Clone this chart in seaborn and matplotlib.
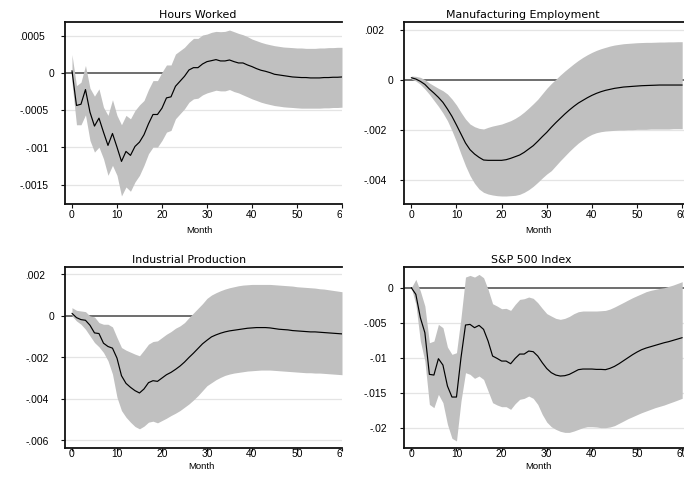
import matplotlib
matplotlib.use("Agg")
import matplotlib.pyplot as plt
import seaborn as sns
from matplotlib.transforms import blended_transform_factory, offset_copy, Bbox

# ---------------------------------------------------------------------------
# Impulse responses (point estimate and confidence band), months 0..60
# ---------------------------------------------------------------------------
months = list(range(61))

hours_irf = [0.00003, -0.000437, -0.00042, -0.000223, -0.000527, -0.000714, -0.000607, -0.000795,
             -0.000973, -0.000813, -0.000996, -0.001188, -0.001054, -0.001107, -0.000987, -0.000929,
             -0.00083, -0.000683, -0.000558, -0.000558, -0.000473, -0.000335, -0.000321, -0.000179,
             -0.000112, -0.000045, 0.00004, 0.000071, 0.000071, 0.00012, 0.000152,
             0.000165, 0.000179, 0.000161, 0.000161, 0.000174, 0.000152, 0.000134, 0.000134, 0.000107,
             0.000085, 0.000058, 0.000036, 0.000022, 0.000004, -0.000018, -0.000027, -0.000036,
             -0.000045, -0.000054, -0.000058, -0.000062, -0.000062, -0.000067, -0.000067, -0.000067,
             -0.000062, -0.000062, -0.000058, -0.000058, -0.000054]
hours_hi = [0.000246, -0.00017, -0.000125, 0.0001, -0.000205, -0.000312, -0.000214, -0.00046,
            -0.00057, -0.00036, -0.00057, -0.000696, -0.00057, -0.000616, -0.000504, -0.000429,
            -0.00037, -0.000223, -0.000103, -0.000103, 0.00001, 0.000107, 0.000107, 0.000254,
            0.000299, 0.000344, 0.00041, 0.000464, 0.000464, 0.000509, 0.000522,
            0.000545, 0.000558, 0.000554, 0.000558, 0.000576, 0.000554, 0.000531, 0.000513, 0.000487,
            0.000455, 0.000433, 0.000411, 0.000393, 0.000379, 0.000366, 0.000357, 0.000348,
            0.000344, 0.00034, 0.000335, 0.000335, 0.00033, 0.00033, 0.00033, 0.000335,
            0.000335, 0.00034, 0.00034, 0.000344, 0.000344]
hours_lo = [-0.000125, -0.000696, -0.000696, -0.000563, -0.000906, -0.001063, -0.000996, -0.001152,
            -0.001375, -0.001241, -0.001375, -0.001652, -0.001531, -0.001589, -0.001464, -0.001375,
            -0.001241, -0.001085, -0.000996, -0.000996, -0.000906, -0.000795, -0.000772, -0.000616,
            -0.000549, -0.000482, -0.000393, -0.000348, -0.000339, -0.000295, -0.000268,
            -0.00025, -0.000232, -0.000241, -0.000241, -0.000223, -0.00025, -0.000268, -0.000295,
            -0.000321, -0.000348, -0.00037, -0.000393, -0.00041, -0.000424, -0.000438, -0.000446,
            -0.000455, -0.00046, -0.000464, -0.000469, -0.000473, -0.000473, -0.000473, -0.000473,
            -0.000473, -0.000469, -0.000469, -0.000464, -0.000464, -0.00046]

mfg_irf = [0.000093, 0.00004, -0.000053, -0.000173, -0.00036, -0.00052, -0.000693, -0.000893,
           -0.00116, -0.001453, -0.0018, -0.00216, -0.00252, -0.002787, -0.00296, -0.003093,
           -0.0032, -0.003213, -0.003213, -0.003213, -0.003213, -0.003187, -0.003133, -0.003067,
           -0.003, -0.002893, -0.00276, -0.002627, -0.002453, -0.002267, -0.002093,
           -0.001893, -0.001707, -0.001533, -0.00136, -0.0012, -0.001053, -0.00092, -0.000813,
           -0.000707, -0.000613, -0.000533, -0.000467, -0.000413, -0.000373, -0.000333, -0.000307,
           -0.00028, -0.000267, -0.000253, -0.00024, -0.000227, -0.00022, -0.000213, -0.000207,
           -0.0002, -0.0002, -0.0002, -0.0002, -0.0002, -0.0002]
mfg_hi = [0.00016, 0.000147, 0.000107, 0.000013, -0.00012, -0.000227, -0.000333, -0.000427,
          -0.00056, -0.00076, -0.001, -0.001293, -0.00156, -0.00176, -0.001867, -0.001933,
          -0.00196, -0.001893, -0.00184, -0.0018, -0.00176, -0.001693, -0.001627, -0.001533,
          -0.00142, -0.00128, -0.00112, -0.00095, -0.00077, -0.00055, -0.00033,
          -0.00014, 0.00003, 0.0002, 0.00036, 0.000507, 0.000653, 0.000787, 0.000907,
          0.001013, 0.001107, 0.001187, 0.001253, 0.001307, 0.00136, 0.0014, 0.001427,
          0.001453, 0.001467, 0.00148, 0.001493, 0.0015, 0.001507, 0.001507, 0.001513,
          0.00152, 0.00152, 0.001527, 0.001527, 0.001533, 0.001533]
mfg_lo = [0.00004, -0.00004, -0.000173, -0.00036, -0.000573, -0.000813, -0.001053, -0.00132,
          -0.001627, -0.002027, -0.002467, -0.00296, -0.003427, -0.003827, -0.004133, -0.00436,
          -0.004493, -0.00456, -0.0046, -0.004627, -0.00464, -0.00464, -0.004627, -0.004613,
          -0.004573, -0.004493, -0.004387, -0.004253, -0.004093, -0.00392, -0.00376,
          -0.003627, -0.003427, -0.003227, -0.00304, -0.002853, -0.00268, -0.00252, -0.002387,
          -0.002267, -0.002173, -0.002107, -0.002067, -0.00204, -0.002027, -0.002013, -0.002,
          -0.002, -0.001987, -0.001987, -0.001973, -0.001973, -0.001973, -0.00196, -0.00196,
          -0.00196, -0.00196, -0.00196, -0.001947, -0.001947, -0.001947]

ip_irf = [0.000128, -0.00008, -0.000176, -0.000208, -0.000448, -0.000816, -0.000848, -0.001312,
          -0.001472, -0.001552, -0.002032, -0.00288, -0.003248, -0.00344, -0.0036, -0.003712,
          -0.00352, -0.003216, -0.00312, -0.003152, -0.002992, -0.002832, -0.00272, -0.002576,
          -0.002416, -0.002224, -0.002, -0.001792, -0.001568, -0.001344, -0.00117,
          -0.001008, -0.000912, -0.000832, -0.000768, -0.00072, -0.000688, -0.000656, -0.000624,
          -0.000592, -0.000576, -0.00056, -0.00056, -0.00056, -0.000576, -0.000608, -0.00064,
          -0.000656, -0.000672, -0.000704, -0.00072, -0.000736, -0.000752, -0.000768, -0.000768,
          -0.000784, -0.0008, -0.000816, -0.000832, -0.000848, -0.000864]
ip_hi = [0.0004, 0.000272, 0.00024, 0.000208, 0.0, -0.000048, -0.00032, -0.0004,
         -0.0004, -0.000528, -0.00104, -0.00152, -0.001648, -0.001744, -0.00184, -0.00192,
         -0.001648, -0.00136, -0.001232, -0.0012, -0.00104, -0.00088, -0.000752, -0.000592,
         -0.00048, -0.00032, -0.00008, 0.000144, 0.000368, 0.000592, 0.000848,
         0.001008, 0.00112, 0.001216, 0.001296, 0.00136, 0.001408, 0.001456, 0.001488,
         0.001504, 0.00152, 0.00152, 0.00152, 0.00152, 0.00152, 0.001504, 0.001488,
         0.001472, 0.001456, 0.00144, 0.001408, 0.001392, 0.001376, 0.00136, 0.001344,
         0.001312, 0.001296, 0.001264, 0.001232, 0.0012, 0.001168]
ip_lo = [0.0, -0.00024, -0.0004, -0.00064, -0.00096, -0.00128, -0.001488, -0.00176,
         -0.00216, -0.0028, -0.00392, -0.00456, -0.00488, -0.00512, -0.005328, -0.00544,
         -0.005312, -0.00512, -0.005072, -0.005152, -0.00504, -0.004928, -0.0048, -0.004688,
         -0.00456, -0.0044, -0.00424, -0.004048, -0.00384, -0.0036, -0.00336,
         -0.003216, -0.003072, -0.00296, -0.002864, -0.0028, -0.002752, -0.00272, -0.002688,
         -0.002656, -0.00264, -0.002624, -0.002608, -0.002608, -0.002608, -0.002624, -0.00264,
         -0.002656, -0.002672, -0.002688, -0.002704, -0.00272, -0.002736, -0.002736, -0.002752,
         -0.002752, -0.002768, -0.002784, -0.0028, -0.002816, -0.002832]

sp_irf = [0.0, -0.00095, -0.00429, -0.00643, -0.01238, -0.01248, -0.01014, -0.01105,
          -0.01405, -0.01562, -0.01562, -0.01, -0.00533, -0.00524, -0.00571, -0.00538,
          -0.00595, -0.00762, -0.00976, -0.0101, -0.01048, -0.01048, -0.01086, -0.0101,
          -0.00948, -0.00948, -0.00905, -0.00914, -0.00976, -0.01071, -0.01155,
          -0.01214, -0.01248, -0.01262, -0.01257, -0.01238, -0.01205, -0.01171, -0.01162,
          -0.01162, -0.01162, -0.01167, -0.01167, -0.01171, -0.01152, -0.01124, -0.01086,
          -0.01043, -0.01, -0.00957, -0.00919, -0.00886, -0.00862, -0.00843, -0.00824,
          -0.00805, -0.00786, -0.00771, -0.00752, -0.00733, -0.00714]
sp_hi = [0.0, 0.00119, -0.00048, -0.00262, -0.00786, -0.00762, -0.00524, -0.00571,
         -0.00848, -0.00952, -0.00929, -0.00429, 0.00152, 0.00176, 0.00152, 0.0019,
         0.00143, -0.00024, -0.00229, -0.00262, -0.003, -0.00295, -0.00324, -0.00238,
         -0.00167, -0.00157, -0.00133, -0.00152, -0.00214, -0.00295, -0.0037,
         -0.00405, -0.00438, -0.00452, -0.00438, -0.0041, -0.00371, -0.00343, -0.00333,
         -0.00333, -0.00333, -0.00333, -0.00329, -0.00324, -0.00305, -0.00276, -0.00243,
         -0.0021, -0.00176, -0.00143, -0.00114, -0.00086, -0.00057, -0.00038, -0.00024,
         -0.0001, 0.0, 0.00019, 0.00038, 0.00062, 0.00086]
sp_lo = [0.0, -0.00238, -0.00762, -0.01048, -0.01667, -0.01714, -0.01524, -0.01643,
         -0.01952, -0.02152, -0.0219, -0.01619, -0.01214, -0.01238, -0.01295, -0.01262,
         -0.0131, -0.01476, -0.01643, -0.01676, -0.017, -0.017, -0.01738, -0.01657,
         -0.01595, -0.01581, -0.01548, -0.01581, -0.01667, -0.0181, -0.0192,
         -0.01986, -0.02024, -0.02052, -0.02067, -0.02067, -0.02048, -0.02024, -0.02,
         -0.01986, -0.01986, -0.0199, -0.02, -0.02, -0.0199, -0.01971, -0.01938,
         -0.01905, -0.01871, -0.01843, -0.01814, -0.01786, -0.01762, -0.01738, -0.01714,
         -0.01695, -0.01676, -0.01652, -0.01629, -0.01605, -0.0158]

titles = ["Hours Worked", "Manufacturing Employment", "Industrial Production", "S&P 500 Index"]
x_ticks = [0, 10, 20, 30, 40, 50, 60]
x_label = "Month"

hours_yticks = [0.0005, 0.0, -0.0005, -0.001, -0.0015]
hours_ylabels = [".0005", "0", "-.0005", "-.001", "-.0015"]
mfg_yticks = [0.002, 0.0, -0.002, -0.004]
mfg_ylabels = [".002", "0", "-.002", "-.004"]
ip_yticks = [0.002, 0.0, -0.002, -0.004, -0.006]
ip_ylabels = [".002", "0", "-.002", "-.004", "-.006"]
sp_yticks = [0.0, -0.005, -0.01, -0.015, -0.02]
sp_ylabels = ["0", "-.005", "-.01", "-.015", "-.02"]

# ---------------------------------------------------------------------------
# Figure layout (pixel geometry on a 684 x 485 canvas)
# ---------------------------------------------------------------------------
W, H = 684, 485
DPI = 100
PT = 72.0 / DPI  # points per pixel

sns.set_style("white")
plt.rcParams["font.family"] = ["Liberation Sans", "DejaVu Sans"]

fig = plt.figure(figsize=(W / DPI, H / DPI), dpi=DPI)
fig.patch.set_facecolor("white")


def frac_rect(left, right, top, bottom):
    return [left / W, 1 - bottom / H, (right - left) / W, (bottom - top) / H]


panels = [
    dict(title=titles[0], irf=hours_irf, lo=hours_lo, hi=hours_hi,
         yt=hours_yticks, yl=hours_ylabels,
         box=(65, 342, 23.3, 205), xlim=(-1.55, 59.6), ylim=(-0.00176, 0.00068),
         title_at=(197.5, 18.3), month_at=(199.5, 233.0), xtick_len=4.3, xpad=1.0),
    dict(title=titles[1], irf=mfg_irf, lo=mfg_lo, hi=mfg_hi,
         yt=mfg_yticks, yl=mfg_ylabels,
         box=(403.7, 684, 23.3, 205), xlim=(-1.69, 60.4), ylim=(-0.00496, 0.00231),
         title_at=(522.8, 18.3), month_at=(538.3, 233.0), xtick_len=4.3, xpad=1.0),
    dict(title=titles[2], irf=ip_irf, lo=ip_lo, hi=ip_hi,
         yt=ip_yticks, yl=ip_ylabels,
         box=(65, 342, 268, 448.7), xlim=(-1.55, 59.6), ylim=(-0.00635, 0.00236),
         title_at=(189.5, 262.7), month_at=(201.3, 469.0), xtick_len=3.0, xpad=-2.4),
    dict(title=titles[3], irf=sp_irf, lo=sp_lo, hi=sp_hi,
         yt=sp_yticks, yl=sp_ylabels,
         box=(403.7, 684, 268, 448.7), xlim=(-1.69, 60.4), ylim=(-0.02286, 0.00296),
         title_at=(531.0, 262.7), month_at=(538.7, 469.0), xtick_len=3.0, xpad=-2.4),
]

BAND = "#c0c0c0"
GRID = "#e4e4e4"
ZERO = "#474747"
INK = "#111111"
YTICK_LEN = 4.3  # px

for p in panels:
    left, right, top, bottom = p["box"]
    ax = fig.add_axes(frac_rect(left, right, top, bottom))
    ax.set_facecolor("white")

    # horizontal grid, zero reference, confidence band, point estimate
    for t in p["yt"]:
        if t != 0:
            ax.axhline(t, color=GRID, lw=0.9, zorder=0)
    ax.axhline(0, color=ZERO, lw=1.1, zorder=1)
    ax.fill_between(months, p["lo"], p["hi"], color=BAND, lw=0, zorder=2)
    sns.lineplot(x=months, y=p["irf"], ax=ax, color="black", lw=0.85, zorder=3)

    ax.set_xlim(*p["xlim"])
    ax.set_ylim(*p["ylim"])
    ax.set_xticks(x_ticks)
    ax.set_xticklabels([str(v) for v in x_ticks])
    ax.set_yticks(p["yt"])
    ax.set_yticklabels([])
    ax.set_xlabel("")
    ax.set_ylabel("")

    for side in ("left", "top", "bottom"):
        ax.spines[side].set_visible(True)
        ax.spines[side].set_color(INK)
        ax.spines[side].set_linewidth(1.3)
    ax.spines["right"].set_visible(False)

    ax.tick_params(axis="both", direction="out", width=0.8, color=INK,
                   labelsize=7.4, labelcolor="black")
    ax.tick_params(axis="x", length=p["xtick_len"] * PT, pad=p["xpad"] * PT, bottom=True)
    ax.tick_params(axis="y", length=YTICK_LEN * PT, left=True, labelleft=False)

    # each panel is cut at its right-hand edge
    clip = Bbox.from_extents(0, 0, right, H)
    for lab in ax.get_xticklabels():
        lab.set_clip_box(clip)
        lab.set_clip_on(True)

    # y-axis value labels, Stata style (leading zero dropped)
    trans = blended_transform_factory(ax.transAxes, ax.transData)
    for v, s in zip(p["yt"], p["yl"]):
        if s == "0":
            gap = 10.5
        elif s.startswith("."):
            gap = 20.0
        else:
            gap = 16.5
        tr = offset_copy(trans, fig=fig, x=-gap * PT, y=-0.3 * PT, units="points")
        ax.text(0, v, s, transform=tr, ha="right", va="center",
                fontsize=7.4, color="black")

    # panel title and axis caption
    tx, ty = p["title_at"]
    fig.text(tx / W, 1 - ty / H, p["title"], ha="center", va="baseline",
             fontsize=7.9, color="black", family=["DejaVu Sans"])
    mx, my = p["month_at"]
    fig.text(mx / W, 1 - my / H, x_label, ha="center", va="baseline",
             fontsize=6.8, color="black")

fig.savefig("out.png", dpi=DPI, facecolor="white")
